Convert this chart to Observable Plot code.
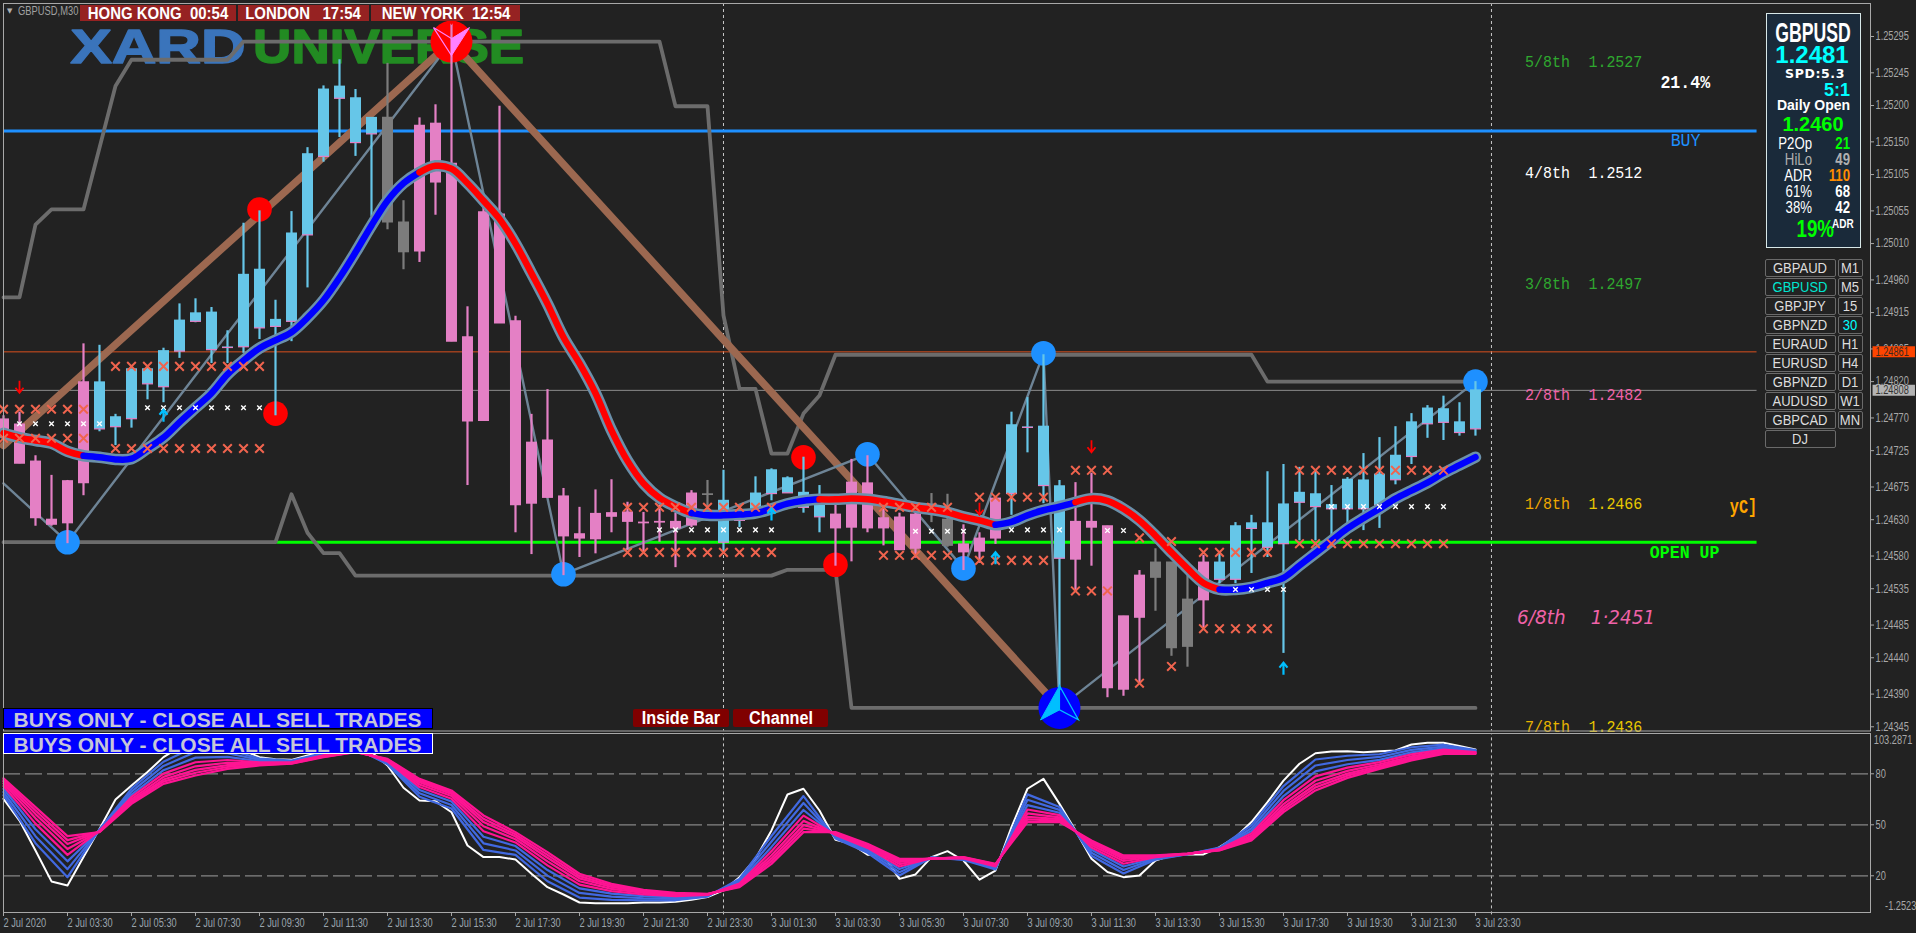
<!DOCTYPE html>
<html><head><meta charset="utf-8">
<script src="https://cdn.jsdelivr.net/npm/d3@7"></script>
<script src="https://cdn.jsdelivr.net/npm/@observablehq/plot@0.6"></script>
<style>
html,body{margin:0;padding:0;background:#222;overflow:hidden}
#root{position:relative;width:1916px;height:933px;background:#222}
#root svg{display:block;position:absolute;left:0}
.o{position:absolute;white-space:pre;line-height:1}
</style></head><body><div id="root"></div>
<script>
// ---- values are price points (1/100000) ----
const priceOpen=[124768,124761,124710,124630,124683,124819,124755,124758,124769,124817,124813,124862,124903,124864,124867,124868,124894,124896,124903,125022,125130,125210,125149,125161,125183,125039,125172,125175,125120,124881,125053,125050,124903,124736,124739,124662,124610,124638,124639,124640,124626,124627,124627,124666,124665,124599,124629,124643,124666,124667,124647,124634,124637,124681,124680,124632,124633,124637,124651,124630,124596,124604,124659,124666,124757,124677,124577,124627,124627,124621,124497,124553,124571,124571,124520,124571,124548,124548,124618,124592,124597,124654,124648,124645,124645,124645,124650,124685,124717,124762,124764,124750,124755];
const priceHigh=[124773,124778,124718,124691,124684,124872,124870,124775,124837,124842,124866,124927,124934,124922,124890,125038,125055,124932,125054,125142,125227,125263,125222,125183,125258,125069,125183,125201,125317,124923,125062,125199,124910,124775,124809,124673,124647,124671,124685,124654,124640,124650,124639,124670,124684,124698,124647,124689,124700,124689,124716,124677,124650,124713,124718,124647,124639,124640,124666,124665,124623,124612,124659,124778,124798,124857,124684,124681,124694,124621,124497,124560,124590,124571,124553,124581,124584,124626,124636,124696,124706,124702,124698,124677,124688,124721,124743,124758,124776,124787,124800,124791,124820];
const priceLow=[124745,124707,124621,124621,124597,124663,124751,124732,124756,124795,124791,124852,124901,124845,124845,124859,124878,124773,124875,124949,125122,125156,125130,125047,125029,124974,124984,125049,124875,124677,124766,124900,124612,124582,124660,124553,124578,124583,124612,124588,124585,124599,124564,124619,124640,124584,124619,124640,124656,124667,124639,124612,124566,124572,124612,124594,124588,124577,124626,124592,124560,124570,124596,124636,124722,124652,124395,124530,124566,124385,124387,124405,124504,124442,124427,124480,124542,124542,124556,124578,124446,124601,124601,124608,124619,124615,124618,124678,124706,124742,124739,124745,124745];
const priceClose=[124750,124707,124632,124623,124625,124680,124819,124771,124837,124837,124862,124904,124914,124915,124867,124967,124974,124905,125024,125133,125222,125226,125210,125183,125039,124998,124999,125094,124875,124765,124766,124900,124650,124652,124660,124607,124604,124603,124634,124627,124625,124626,124618,124622,124664,124656,124641,124666,124698,124687,124667,124654,124618,124619,124618,124618,124588,124590,124650,124594,124585,124586,124604,124760,124757,124758,124676,124575,124619,124398,124396,124495,124550,124453,124455,124519,124571,124621,124625,124625,124651,124667,124665,124650,124685,124684,124692,124718,124764,124783,124782,124764,124808];
const candleKind="pppppp"+"bbbbbbbbbbbbbbbbbb"+"gg"+"pppppppppppppppppp"+"g"+"bbbbbbb"+"pppppp"+"gg"+"ppp"+"bbbb"+"ppppp"+"ggg"+"p"+"bbbbbbbbbbbbbbbbb";
const movingAverage=[124749,124743,124739,124735,124724,124718,124716,124713,124714,124728,124743,124764,124784,124804,124830,124849,124866,124877,124888,124908,124932,124963,124998,125035,125069,125093,125108,125117,125113,125093,125069,125044,125010,124969,124927,124881,124845,124804,124753,124711,124680,124660,124648,124639,124636,124636,124637,124639,124645,124652,124656,124658,124658,124659,124658,124655,124651,124647,124644,124640,124634,124629,124623,124627,124636,124643,124648,124654,124659,124656,124645,124629,124608,124585,124563,124543,124534,124534,124537,124543,124550,124567,124584,124601,124618,124632,124645,124659,124670,124681,124694,124705,124716];
const maColorRuns=[[0,5,"#ff0000"],[5,26,"#0000ff"],[26,43,"#ff0000"],[43,51,"#0000ff"],[51,62,"#ff0000"],[62,67,"#0000ff"],[67,76,"#ff0000"],[76,92,"#0000ff"]];
const channelUpperRuns=[[124936,2],[125036,1],[125057,3],[125142,1],[125227,1],[125263,7],[125288,27],[125199,3],[124911,1],[124810,2],[124721,2],[124776,1],[124801,1],[124857,27],[124820,14]];
const channelLowerRuns=[[124599,18],[124665,1],[124612,1],[124584,2],[124553,27],[124561,4],[124371,40]];
const brownBars=[0,28,66], brownPrices=[124732,125288,124371];
const zigBars=[0,4,28,35,54,60,65,66,92], zigPrices=[124680,124599,125288,124555,124720,124563,124859,124371,124820];
const redDotBars=[16,17,50,52], redDotPrices=[125057,124776,124716,124568];
const blueDotBars=[4,35,54,60,65,92], blueDotPrices=[124599,124555,124720,124563,124859,124820];
const topPivot={bar:28,price:125288}, bottomPivot={bar:66,price:124371};
const redCrossRuns=[[7,16,124841],[0,5,124782],[0,5,124742],[7,16,124728],[39,48,124647],[39,48,124585],[55,59,124647],[61,65,124661],[55,59,124581],[61,65,124574],[67,69,124698],[67,69,124532],[71,71,124605],[73,73,124600],[71,71,124405],[73,73,124428],[75,79,124585],[75,79,124480],[81,90,124698],[81,90,124597]];
const whiteCrossRuns=[[1,6,124762],[9,16,124784],[41,48,124616],[57,60,124614],[63,66,124616],[69,70,124615],[77,80,124534],[83,90,124648]];
const downArrowBars=[1,28,61,68], downArrowPrices=[124813,125321,124645,124731];
const upArrowBars=[10,48,62,80], upArrowPrices=[124773,124637,124577,124425];
const priceTicks=[125295,125245,125200,125150,125105,125055,125010,124960,124915,124865,124820,124770,124725,124675,124630,124580,124535,124485,124440,124390,124345];
const buyLevel=125165, openLevel=124599, bidLevel=124861, askLevel=124808;
const lastBar=109.6, openStartBar=17.1;
const sessionBars=[45,93];
const mathLabels=["5/8th","4/8th","3/8th","2/8th","1/8th","7/8th"];
const mathValues=["1.2527","1.2512","1.2497","1.2482","1.2466","1.2436"];
const mathPrices=[125261,125108,124955,124802,124652,124346];
const mathColorsA=["#2fa82f","#ffffff","#2fa82f","#f062a8","#f0a800","#e8b400"];
const mathColorsB=["#2fa82f","#ffffff","#2fa82f","#f062a8","#e8c800","#e8c800"];
const timeTickBars=[0,4,8,12,16,20,24,28,32,36,40,44,48,52,56,60,64,68,72,76,80,84,88,92];
const timeTickLabels=["2 Jul 2020","2 Jul 03:30","2 Jul 05:30","2 Jul 07:30","2 Jul 09:30","2 Jul 11:30","2 Jul 13:30","2 Jul 15:30","2 Jul 17:30","2 Jul 19:30","2 Jul 21:30","2 Jul 23:30","3 Jul 01:30","3 Jul 03:30","3 Jul 05:30","3 Jul 07:30","3 Jul 09:30","3 Jul 11:30","3 Jul 13:30","3 Jul 15:30","3 Jul 17:30","3 Jul 19:30","3 Jul 21:30","3 Jul 23:30"];
// ---- oscillator ----
const oscWhite=[65.3,52.5,34.9,16.7,14.3,31,47.6,64.9,73.1,81,89.8,95.7,99.6,98.6,96.6,93.7,89.8,88.6,88.2,90.8,92.7,94.7,95.7,92.7,84.9,71.8,64.3,63.9,57.4,37.8,31,31,29.6,21.2,13.3,9,4.3,3.9,3.9,3.9,4.3,4.3,4.7,5.9,7.5,11.4,19.2,30,46.7,67.8,71.2,58.4,41.2,38.8,32.4,32,18.2,20.8,31,34.5,29,17.7,23.1,48.6,71.2,77,62.3,46.7,30,22.2,19.2,20.2,29,32,32.6,32.6,36.9,42.7,51.6,63.3,76,85.9,92.1,93.1,93.3,92.7,93.3,93.7,97.2,98.2,98.2,96.3,94.3];
const oscBars=[0,2,4,6,8,10,12,14,16,18,20,22,24,26,28,30,32,34,36,38,40,42,44,46,48,50,52,54,56,58,60,62,64,66,68,70,72,74,76,78,80,82,84,86,88,90,92];
const oscBlue1=[67.4,39.2,19.2,47.3,71.3,87.1,96.1,94.3,89,87.8,92.2,95.2,85.6,66.5,59.6,35.2,32.3,16.8,7.2,5.8,5.6,5.6,7.8,18.2,43.4,66.9,42,33.5,20.2,30.8,29.3,23.8,67.9,60.5,31.8,21.4,29.5,32.7,36.6,49.8,72.8,88.4,90.6,91.5,95.6,97.1,93.9];
const oscBlue2=[69.3,43.3,23.9,47,69.5,84.6,92.8,92.1,88.2,87.4,91.7,94.7,86.2,68.5,61.6,39.1,34.9,20.1,9.9,7.7,6.8,6.4,8.1,17.3,40.2,62.8,42.7,34.5,22.1,30.7,29.7,24.4,64.7,58.8,33.6,23.4,30,32.7,36.2,48,69.9,84.9,88.1,89.9,94.1,96,93.4];
const oscBlue3=[71.2,47.4,28.5,46.7,67.8,82.1,89.5,89.9,87.4,87.1,91.3,94.2,86.8,70.5,63.7,43,37.5,23.4,12.6,9.5,8,7.3,8.4,16.3,37,58.7,43.4,35.5,24,30.5,30,25,61.6,57.1,35.3,25.5,30.5,32.8,35.9,46.3,66.9,81.4,85.6,88.2,92.6,95,93];
const oscPink1=[72.8,50.7,32.3,46.4,66.4,80.1,86.8,88.1,86.8,86.8,90.9,93.8,87.3,72.2,65.3,46.2,39.6,26.1,14.8,11,9,8,8.7,15.5,34.5,55.4,44,36.4,25.5,30.4,30.2,25.5,59,55.7,36.7,27.1,30.9,32.8,35.7,44.9,64.5,78.5,83.6,86.9,91.4,94.2,92.7];
const oscPink2=[74.3,53.8,35.8,46.2,65.1,78.2,84.4,86.5,86.2,86.5,90.6,93.5,87.8,73.7,66.9,49.1,41.5,28.5,16.8,12.3,9.9,8.6,8.9,14.8,32.1,52.3,44.5,37.1,26.9,30.3,30.5,26,56.7,54.4,38,28.7,31.2,32.9,35.4,43.6,62.2,75.9,81.7,85.6,90.2,93.4,92.4];
const oscPink3=[75.5,56.3,38.7,46,64,76.6,82.3,85.1,85.7,86.3,90.3,93.2,88.2,75,68.2,51.6,43.1,30.6,18.5,13.5,10.6,9.2,9.1,14.2,30.2,49.8,45,37.8,28.1,30.2,30.7,26.4,54.7,53.3,39.1,30,31.5,32.9,35.2,42.5,60.4,73.7,80.1,84.6,89.3,92.7,92.1];
const oscPink4=[76.4,58.4,41,45.9,63.2,75.4,80.6,84,85.3,86.1,90,92.9,88.5,76,69.2,53.5,44.4,32.3,19.8,14.4,11.2,9.6,9.2,13.8,28.6,47.7,45.3,38.3,29.1,30.1,30.8,26.7,53.2,52.5,39.9,31,31.8,33,35.1,41.7,58.9,72,78.9,83.7,88.6,92.2,91.9];
const oscPink5=[77.4,60.4,43.3,45.7,62.3,74.1,79,82.9,84.9,85.9,89.8,92.7,88.8,77,70.2,55.5,45.7,33.9,21.2,15.3,11.8,10,9.4,13.3,27,45.7,45.7,38.8,30,30,31,27,51.6,51.6,40.8,32,32,33,34.9,40.8,57.4,70.2,77.6,82.9,87.8,91.7,91.7];
const oscLevels=[80,50,20], oscTop=103.2871, oscBottom=-1.2523;

// ---- expand / tables ----
const BLUE="#66c6e8",PINK="#e480c5",GRAY="#7c7c7c";
const candles=priceOpen.map((o,i)=>({i,o,h:priceHigh[i],l:priceLow[i],c:priceClose[i],k:candleKind[i]}));
const unruns=r=>r.flatMap(([v,n])=>Array(n).fill(v));
const channelUpper=unruns(channelUpperRuns), channelLower=unruns(channelLowerRuns);
const crosses=r=>r.flatMap(([a,b,p])=>d3.range(a,b+1).map(i=>({i,p})));
const pairs=(xs,ys)=>xs.map((b,k)=>({b,p:ys[k]}));
const FONT="'Liberation Sans',sans-serif";
const MONO="'Liberation Mono','DejaVu Sans Mono',monospace";

// custom glyphs drawn through Plot.dot
const hline={draw(c){c.moveTo(-5.5,0);c.lineTo(5.5,0)}};
const downArrow={draw(c){c.moveTo(0,-6);c.lineTo(0,6);c.moveTo(-4,1);c.lineTo(0,6);c.lineTo(4,1)}};
const upArrow={draw(c){c.moveTo(0,6);c.lineTo(0,-6);c.moveTo(-4,-1);c.lineTo(0,-6);c.lineTo(4,-1)}};
const kiteRight={draw(c){c.moveTo(18,-14);c.lineTo(0,-3);c.lineTo(0,14);c.closePath()}};
const kiteLeft={draw(c){c.moveTo(-18,-14);c.lineTo(0,-3);c.lineTo(0,14);c.closePath()}};
const tentLeft={draw(c){c.moveTo(0,-22);c.lineTo(-19,12);c.lineTo(0,2);c.closePath()}};
const tentRight={draw(c){c.moveTo(0,-22);c.lineTo(19,12);c.lineTo(0,2);c.closePath()}};

const candleMarks=k=>{
  const rows=candles.filter(d=>d.k===k), col=k==="b"?BLUE:k==="p"?PINK:GRAY;
  return [
    Plot.ruleX(rows,{x:"i",y1:"l",y2:"h",stroke:col,strokeWidth:2.2}),
    Plot.ruleX(rows,{x:"i",y1:d=>Math.max(d.o,d.c)+0.7,y2:d=>Math.min(d.o,d.c)-0.7,stroke:col,strokeWidth:11})
  ];
};
const txt=(s,bar,price,fill,size,extra={})=>Plot.text([s],{x:()=>bar,y:()=>price,text:d=>d,fill,fontSize:size,fontFamily:MONO,textAnchor:"start",lineAnchor:"middle",...extra});

const xScale={type:"linear",domain:[0,116.69],axis:null};
const main=Plot.plot({
  width:1916,height:732,marginTop:3,marginBottom:1.5,marginLeft:3,marginRight:46,
  style:{background:"#222222",color:"#a9a9a9",overflow:"visible",fontFamily:FONT,fontSize:"11px"},
  x:xScale,
  y:{domain:[124339.2,125340.4],axis:null},
  marks:[
    Plot.text(["XARD"],{x:()=>4.19,y:()=>125279,text:d=>d,fill:"#3a74bb",stroke:"#3a74bb",strokeWidth:1.5,fontSize:48,fontWeight:900,fontFamily:FONT,textAnchor:"start",lineAnchor:"middle",className:"logoA"}),
    Plot.text(["UNIVERSE"],{x:()=>15.6,y:()=>125279,text:d=>d,fill:"#228b22",stroke:"#228b22",strokeWidth:1.5,fontSize:48,fontWeight:900,fontFamily:FONT,textAnchor:"start",lineAnchor:"middle",className:"logoB"}),
    Plot.ruleX(sessionBars,{stroke:"#c8c8c8",strokeDasharray:"3,3",strokeWidth:1}),
    Plot.ruleY([bidLevel],{x1:0,x2:lastBar,stroke:"#d9501e",strokeWidth:1}),
    Plot.ruleY([askLevel],{x1:0,x2:lastBar,stroke:"#8c8c8c",strokeWidth:1}),
    Plot.ruleY([buyLevel],{x1:0,x2:lastBar,stroke:"#1e90ff",strokeWidth:3}),
    Plot.ruleY([openLevel],{x1:openStartBar,x2:lastBar,stroke:"#00ff00",strokeWidth:3}),
    Plot.line(channelUpper,{x:(d,i)=>i,y:d=>d,stroke:"#6c6c6c",strokeWidth:3.8}),
    Plot.line(channelLower,{x:(d,i)=>i,y:d=>d,stroke:"#6c6c6c",strokeWidth:3.8}),
    Plot.line(pairs(brownBars,brownPrices),{x:"b",y:"p",stroke:"#9c6850",strokeWidth:7.5}),
    Plot.line(pairs(zigBars,zigPrices),{x:"b",y:"p",stroke:"#6e8496",strokeWidth:2.4}),
    Plot.dot(pairs(redDotBars,redDotPrices),{x:"b",y:"p",r:12.3,fill:"#ff0000"}),
    Plot.dot(pairs(blueDotBars,blueDotPrices),{x:"b",y:"p",r:12.3,fill:"#1e90ff"}),
    Plot.dot([topPivot],{x:"bar",y:"price",r:21,fill:"#ff0000"}),
    Plot.dot([bottomPivot],{x:"bar",y:"price",r:21,fill:"#0000ff"}),
    candleMarks("g"),candleMarks("p"),candleMarks("b"),
    Plot.dot(candles.filter(d=>d.k==="b"),{x:"i",y:"o",symbol:hline,stroke:PINK,strokeWidth:1.2,fill:"none"}),
    Plot.line(movingAverage,{x:(d,i)=>i,y:d=>d,stroke:"#6b90aa",strokeWidth:11.5,strokeLinecap:"round",strokeLinejoin:"round",curve:"catmull-rom"}),
    maColorRuns.map(([a,b,col])=>Plot.line(d3.range(a,b+1),{x:d=>d,y:d=>movingAverage[d],stroke:col,strokeWidth:6.5,strokeLinecap:"round",strokeLinejoin:"round",curve:"catmull-rom"})),
    Plot.dot(crosses(redCrossRuns),{x:"i",y:"p",symbol:"times",r:4,stroke:"#f0644e",strokeWidth:2,fill:"none"}),
    Plot.dot(crosses(whiteCrossRuns),{x:"i",y:"p",symbol:"times",r:2.2,stroke:"#ffffff",strokeWidth:1.4,fill:"none"}),
    Plot.dot(pairs(downArrowBars,downArrowPrices),{x:"b",y:"p",symbol:downArrow,stroke:"#ff0000",strokeWidth:1.8,fill:"none"}),
    Plot.dot(pairs(upArrowBars,upArrowPrices),{x:"b",y:"p",symbol:upArrow,stroke:"#00bfff",strokeWidth:2.2,fill:"none"}),
    Plot.dot([topPivot],{x:"bar",y:"price",symbol:kiteRight,fill:"#ff80ff",stroke:"#ff80ff",strokeWidth:1}),
    Plot.dot([topPivot],{x:"bar",y:"price",symbol:kiteLeft,fill:"none",stroke:"#ff80ff",strokeWidth:1.2}),
    Plot.dot([bottomPivot],{x:"bar",y:"price",symbol:tentLeft,fill:"#00bfff",stroke:"#00bfff",strokeWidth:1}),
    Plot.dot([bottomPivot],{x:"bar",y:"price",symbol:tentRight,fill:"none",stroke:"#00bfff",strokeWidth:1.2}),
    mathLabels.map((s,k)=>[
      txt(s,95.1,mathPrices[k],mathColorsA[k],17,{className:"c88"}),
      txt(mathValues[k],99.06,mathPrices[k],mathColorsB[k],17,{className:"c88"})
    ]),
    txt("6/8th",94.6,124495,"#f062a8",20,{fontStyle:"italic",fontFamily:"'DejaVu Sans',sans-serif",className:"c92"}),
    txt("1·2451",99.2,124495,"#f062a8",20,{fontStyle:"italic",fontFamily:"'DejaVu Sans',sans-serif",className:"c92"}),
    txt("21.4%",103.56,125232,"#ffffff",18,{fontWeight:"bold",className:"c92"}),
    txt("BUY",104.2,125152,"#1e90ff",18,{className:"c92"}),
    txt("OPEN UP",102.9,124585,"#00ff00",18,{fontWeight:"bold",className:"c92"}),
    txt("yC]",107.9,124648,"#ffa500",20,{fontWeight:"bold",className:"c76"}),
    Plot.frame({stroke:"#a8a8a8",strokeWidth:1}),
    Plot.axisY({anchor:"right",ticks:priceTicks,tickFormat:d=>(d/1e5).toFixed(5),tickSize:3,tickPadding:2,stroke:"#a8a8a8",fill:"#a8a8a8",fontSize:12,fontFamily:FONT,label:null}),
    Plot.ruleY([bidLevel],{x1:116.85,x2:119.5,stroke:"#ff4500",strokeWidth:11}),
    Plot.ruleY([askLevel],{x1:116.85,x2:119.5,stroke:"#b4b4b4",strokeWidth:11}),
    Plot.text([bidLevel],{x:()=>117,y:d=>d,text:d=>(d/1e5).toFixed(5),fill:"#3a2a20",fontSize:12,fontFamily:FONT,textAnchor:"start",className:"c77"}),
    Plot.text([askLevel],{x:()=>117,y:d=>d,text:d=>(d/1e5).toFixed(5),fill:"#333",fontSize:12,fontFamily:FONT,textAnchor:"start",className:"c77"})
  ]
});
main.style.top="0";

const oscLine=(arr,col)=>Plot.line(arr,{x:(d,i)=>oscBars[i],y:d=>d,stroke:col,strokeWidth:2.2});
const osc=Plot.plot({
  width:1916,height:201,marginTop:1,marginBottom:21,marginLeft:3,marginRight:46,
  style:{background:"#222222",color:"#a9a9a9",overflow:"visible",fontFamily:FONT,fontSize:"11px"},
  x:xScale,
  y:{domain:[-1.59,103.7],axis:null},
  marks:[
    Plot.ruleX(sessionBars,{y1:-3,y2:103.7,stroke:"#c8c8c8",strokeDasharray:"3,3",strokeWidth:1}),
    Plot.ruleY(oscLevels,{stroke:"#858585",strokeDasharray:"17,5",strokeWidth:1.3}),
    Plot.line(oscWhite,{x:(d,i)=>i,y:d=>d,stroke:"#ffffff",strokeWidth:2}),
    oscLine(oscBlue1,"#4169e1"),oscLine(oscBlue2,"#4169e1"),oscLine(oscBlue3,"#4169e1"),
    oscLine(oscPink1,"#ff1493"),oscLine(oscPink2,"#ff1493"),oscLine(oscPink3,"#ff1493"),oscLine(oscPink4,"#ff1493"),oscLine(oscPink5,"#ff1493"),
    Plot.frame({stroke:"#a8a8a8",strokeWidth:1}),
    Plot.axisY({anchor:"right",ticks:oscLevels,tickFormat:d=>String(d),tickSize:3,tickPadding:2,stroke:"#a8a8a8",fill:"#a8a8a8",fontSize:12,fontFamily:FONT,label:null}),
    Plot.text([oscTop],{x:()=>116.9,y:d=>d,dy:6,text:d=>d.toFixed(4),fill:"#a8a8a8",fontSize:12,fontFamily:FONT,textAnchor:"start",className:"c77"}),
    Plot.text([oscBottom],{x:()=>117.6,y:d=>d,dy:-6,text:d=>d.toFixed(4),fill:"#a8a8a8",fontSize:12,fontFamily:FONT,textAnchor:"start",className:"c77"}),
    Plot.axisX({anchor:"bottom",ticks:timeTickBars,tickFormat:d=>timeTickLabels[timeTickBars.indexOf(d)],tickSize:4,tickPadding:2,textAnchor:"start",stroke:"#a8a8a8",fill:"#9aa4ad",fontSize:12,fontFamily:FONT,label:null})
  ]
});
osc.style.top="732px";

const root=document.getElementById("root");
root.append(main,osc);
main.querySelectorAll(".logoA text").forEach(t=>{t.setAttribute("textLength","175");t.setAttribute("lengthAdjust","spacingAndGlyphs")});
main.querySelectorAll(".logoB text").forEach(t=>{t.setAttribute("textLength","271");t.setAttribute("lengthAdjust","spacingAndGlyphs")});
// no narrow font is installed: squeeze the text marks to the reference's widths
const squeeze=(sel,f)=>root.querySelectorAll(sel).forEach(t=>{t.setAttribute("textLength",(t.getComputedTextLength()*f).toFixed(1));t.setAttribute("lengthAdjust","spacingAndGlyphs")});
squeeze('[aria-label$="tick label"] text',.77);
squeeze(".c77 text",.77);squeeze(".c88 text",.88);squeeze(".c92 text",.92);squeeze(".c76 text",.76);

// ---- on-chart panels, buttons and banners ----
function box(x,y,w,h,css){const d=document.createElement("div");d.className="o";d.style.cssText=`left:${x}px;top:${y}px;width:${w}px;height:${h}px;box-sizing:border-box;${css}`;root.append(d);return d}
function lab(x,y,s,css,a="l",sx=1){const d=document.createElement("div");d.className="o";d.textContent=s;
  const tx=a==="c"?"-50%":a==="r"?"-100%":"0";
  d.style.cssText=`left:${x}px;top:${y}px;transform:translate(${tx},-50%) scaleX(${sx});transform-origin:${a==="c"?"center":a==="r"?"right":"left"} center;${css}`;root.append(d);return d}
const N=`font-family:${FONT};`, SB=`font-family:${FONT};font-weight:bold;`;
lab(7,11,"▼","font-size:7px;color:#b0b0b0;font-family:'DejaVu Sans'");
lab(18,11,"GBPUSD,M30",`${N}font-size:12px;color:#a0a0a0`,"l",.78);
[[80,155.5,"HONG KONG  00:54"],[237.5,131.5,"LONDON   17:54"],[371,149,"NEW YORK  12:54"]].forEach(([x,w,s])=>{
  box(x,5,w,16,"background:#962222");lab(x+w/2,13,s,`${SB}font-size:17px;color:#fff`,"c",.88);
});
[[708,"#000"],[733,"#fff"]].forEach(([y,c])=>{
  box(3,y,430,21,`background:#0000ff;border:1px solid ${c}`);
  lab(13.5,y+10.5,"BUYS ONLY - CLOSE ALL SELL TRADES",`${SB}font-size:21px;color:#c6c6d8`);
});
[[633,96,"Inside Bar"],[733,95,"Channel"]].forEach(([x,w,s])=>{
  box(x,709,w,18,"background:#800000;border-radius:2px");lab(x+w/2,718,s,`${SB}font-size:18px;color:#fff`,"c",.9);
});
box(1766,13,95,235,"background:#1a2a3a;border:1px solid #d8e8e8");
lab(1813,33,"GBPUSD",`${SB}font-size:28px;color:#fff`,"c",.63);
lab(1812,55,"1.2481",`${SB}font-size:24px;color:#00ffff`,"c");
lab(1815,74,"SPD:5.3","font-family:'DejaVu Sans';font-weight:bold;font-size:12.5px;letter-spacing:.6px;color:#fff","c");
lab(1850,90,"5:1",`${SB}font-size:18px;color:#00ffff`,"r");
lab(1813.5,105,"Daily Open",`${SB}font-size:14px;color:#fff`,"c");
lab(1813,124,"1.2460",`${SB}font-size:20px;color:#00ff00`,"c");
[[143,"P2Op","21","#fff","#00ff00"],[159,"HiLo","49","#b0b0b0","#b0b0b0"],[175,"ADR","110","#fff","#ff8c00"],[191,"61%","68","#fff","#fff"],[207,"38%","42","#fff","#fff"]].forEach(([y,a,b,c1,c2])=>{
  lab(1812,y,a,`${N}font-size:16.5px;color:${c1}`,"r",.8);
  lab(1850,y,b,`${SB}font-size:16.5px;color:${c2}`,"r",.8);
});
lab(1834,229,"19%",`${SB}font-size:24px;color:#00ff00`,"r",.78);
lab(1832,224,"ADR",`${SB}font-size:12.5px;color:#fff`,"l",.8);
const pairsList=["GBPAUD","GBPUSD","GBPJPY","GBPNZD","EURAUD","EURUSD","GBPNZD","AUDUSD","GBPCAD","DJ"];
const framesList=["M1","M5","15","30","H1","H4","D1","W1","MN",""];
pairsList.forEach((p,k)=>{
  const y=259+k*19;
  box(1764.5,y,71,18,"border:1px solid #6a6a6a;border-radius:2px");
  lab(1800,y+9.3,p,`${N}font-size:15.5px;color:${k===1?"#00e5d0":"#dddddd"}`,"c",.84);
  if(framesList[k]){box(1837.5,y,25,18,"border:1px solid #6a6a6a;border-radius:2px");
  lab(1850,y+9.3,framesList[k],`${N}font-size:15.5px;color:${k===3?"#00ffff":"#dddddd"}`,"c",.84);}
});
</script></body></html>
